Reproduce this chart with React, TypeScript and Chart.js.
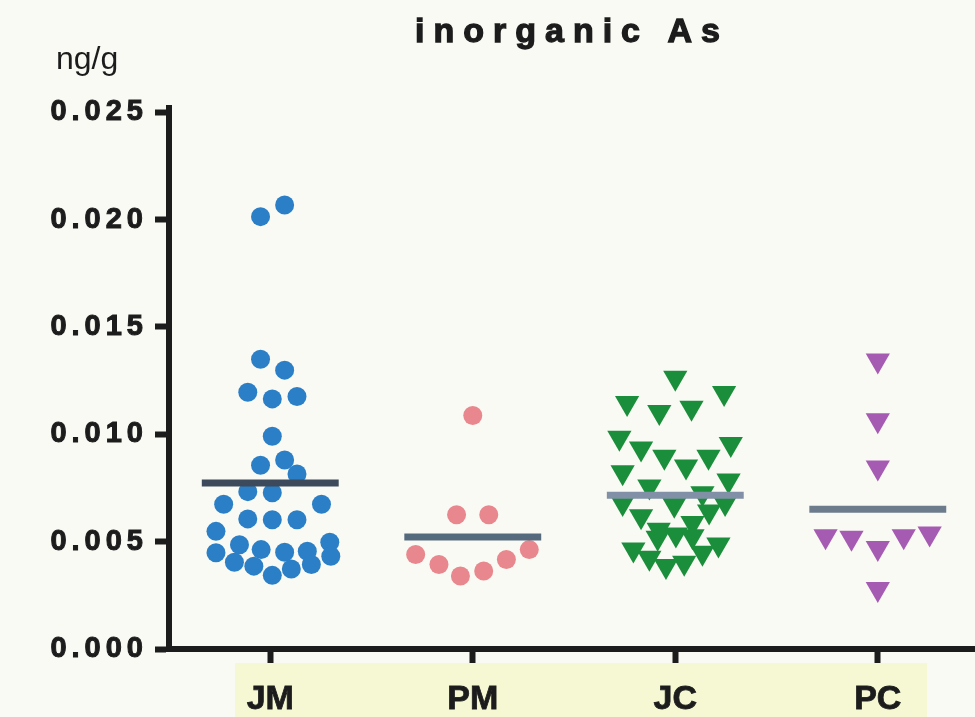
import React, { useEffect, useRef } from 'react';
import { Chart, registerables } from 'chart.js';
Chart.register(...registerables);

// ---- data ----
const categories = ['JM', 'PM', 'JC', 'PC'];
const yTickValues = [0, 0.005, 0.01, 0.015, 0.02, 0.025];
const titleText = 'inorganic As';
const unitText = 'ng/g';

const jmValues = [0.02014, 0.02068, 0.0135, 0.01299, 0.01196, 0.01165, 0.01176, 0.00991, 0.00856, 0.0088, 0.00815, 0.00733, 0.00728, 0.00674, 0.00674, 0.00606, 0.00602, 0.00602, 0.00548, 0.00497, 0.00486, 0.00463, 0.00451, 0.00455, 0.00448, 0.00432, 0.00404, 0.00386, 0.00373, 0.00394, 0.00343];
const jmJitter = [-0.048, 0.071, -0.048, 0.071, -0.111, 0.01, 0.132, 0.01, -0.048, 0.071, 0.132, -0.111, 0.01, -0.23, 0.253, -0.111, 0.01, 0.132, -0.268, 0.294, -0.152, -0.045, 0.071, 0.183, -0.268, 0.299, -0.177, -0.081, 0.104, 0.203, 0.01];

const pmValues = [0.01088, 0.00625, 0.00625, 0.0044, 0.00394, 0.0034, 0.00363, 0.00417, 0.00463];
const pmJitter = [0, -0.08, 0.079, -0.282, -0.167, -0.061, 0.054, 0.166, 0.279];

const jcValues = [0.01263, 0.01192, 0.01146, 0.01104, 0.01124, 0.00984, 0.00955, 0.00934, 0.00896, 0.00896, 0.0085, 0.00823, 0.00785, 0.00757, 0.00726, 0.0068, 0.00672, 0.0068, 0.00641, 0.00618, 0.00587, 0.00556, 0.00533, 0.00518, 0.00525, 0.00487, 0.00464, 0.00448, 0.00425, 0.00402, 0.00387];
const jcJitter = [0, 0.241, -0.238, -0.079, 0.08, -0.276, 0.274, -0.169, -0.054, 0.164, 0.053, -0.26, 0.263, -0.128, 0.134, -0.26, -0.005, 0.246, 0.167, -0.169, 0.085, -0.082, 0.003, -0.087, 0.085, 0.213, -0.207, 0.134, -0.128, 0.044, -0.046];

const pcValues = [0.01344, 0.01066, 0.00845, 0.00525, 0.00518, 0.00471, 0.00525, 0.00538, 0.00279];
const pcJitter = [0, 0, 0, -0.258, -0.13, 0, 0.128, 0.256, 0];

const meanValues = [0.00773, 0.00522, 0.00716, 0.00651];
const meanHalfWidth = 0.338;

const groupValues = [jmValues, pmValues, jcValues, pcValues];
const groupJitter = [jmJitter, pmJitter, jcJitter, pcJitter];
const groupColors = ['#2b7fc7', '#e8878d', '#1b8e3b', '#a65bb3'];
const meanColors = ['#3c4a5b', '#566a7e', '#8190a6', '#6c7c8d'];

const FONT = '"Liberation Sans", Arial, Helvetica, sans-serif';
const INK = '#1c1c1c';

export default function App() {
  const ref = useRef<HTMLCanvasElement | null>(null);

  useEffect(() => {
    document.body.style.margin = '0';
    const canvas = ref.current;
    if (!canvas) return;

    const pointSets = groupValues.map((vals, g) => ({
      type: 'scatter' as const,
      label: categories[g],
      data: vals.map((v, i) => ({ x: g + groupJitter[g][i], y: v })),
      backgroundColor: groupColors[g],
      borderColor: groupColors[g],
      borderWidth: 0,
      pointStyle: g < 2 ? 'circle' : 'triangle',
      pointRotation: g < 2 ? 0 : 180,
      pointRadius: g < 2 ? 9.5 : 14,
      order: 2,
    }));

    const meanSets = meanValues.map((m, g) => ({
      type: 'line' as const,
      label: categories[g] + ' mean',
      data: [
        { x: g - meanHalfWidth, y: m },
        { x: g + meanHalfWidth, y: m },
      ],
      borderColor: meanColors[g],
      borderWidth: 7,
      pointRadius: 0,
      showLine: true,
      fill: false,
      order: 1,
    }));

    const decor = {
      id: 'decor',
      beforeDraw(chart: any) {
        const ctx = chart.ctx;
        ctx.save();
        ctx.fillStyle = '#fafaf4';
        ctx.fillRect(0, 0, chart.width, chart.height);
        ctx.fillStyle = '#f5f8d3';
        ctx.fillRect(235, 663, 692, chart.height - 663);
        ctx.restore();
        const ys: any = chart.scales.y;
        if (ys && !ys.__wrapped) {
          const orig = ys.drawLabels;
          ys.drawLabels = function (area: any) {
            const c = this.ctx;
            c.save();
            c.letterSpacing = '5px';
            orig.call(this, area);
            c.restore();
          };
          ys.__wrapped = true;
        }
      },
      afterDraw(chart: any) {
        const ctx = chart.ctx;
        ctx.save();
        ctx.fillStyle = INK;
        ctx.strokeStyle = INK;
        ctx.lineWidth = 1.3;
        ctx.textAlign = 'left';
        ctx.textBaseline = 'alphabetic';
        ctx.font = `bold 34px ${FONT}`;
        ctx.letterSpacing = '9px';
        ctx.fillText(titleText, 415, 42);
        ctx.strokeText(titleText, 415, 42);
        ctx.letterSpacing = '0px';
        ctx.font = `32px ${FONT}`;
        ctx.fillText(unitText, 56, 69);
        ctx.restore();
      },
    };

    const chart = new Chart(canvas, {
      type: 'scatter',
      data: { datasets: [...meanSets, ...pointSets] as any },
      options: {
        responsive: false,
        animation: false,
        layout: { autoPadding: false, padding: { top: 108, left: 0, right: 0, bottom: 0 } },
        plugins: {
          legend: { display: false },
          title: { display: false },
          tooltip: { enabled: false },
        },
        scales: {
          x: {
            type: 'linear',
            min: -0.5,
            max: 3.48,
            afterFit: (s: any) => {
              s.height = 68;
              s.paddingLeft = 0;
              s.paddingRight = 0;
            },
            afterBuildTicks: (s: any) => {
              s.ticks = categories.map((_, i) => ({ value: i }));
            },
            ticks: {
              callback: (v: any) => categories[Math.round(Number(v))] ?? '',
              font: { family: FONT, size: 34, weight: 'bold' },
              color: INK,
              textStrokeColor: INK,
              textStrokeWidth: 0.8,
              padding: 16,
              maxRotation: 0,
              autoSkip: false,
            },
            grid: {
              display: true,
              drawOnChartArea: false,
              drawTicks: true,
              tickLength: 14,
              tickWidth: 6,
              tickColor: INK,
              color: INK,
            },
            border: { display: true, width: 6, color: INK },
          },
          y: {
            type: 'linear',
            min: 0,
            max: 0.0252,
            afterFit: (s: any) => {
              s.width = 169;
            },
            afterBuildTicks: (s: any) => {
              s.ticks = yTickValues.map((v) => ({ value: v }));
            },
            ticks: {
              callback: (v: any) => Number(v).toFixed(3),
              font: { family: FONT, size: 29, weight: 'bold' },
              color: INK,
              textStrokeColor: INK,
              textStrokeWidth: 1,
              padding: 7,
            },
            grid: {
              display: true,
              drawOnChartArea: false,
              drawTicks: true,
              tickLength: 14,
              tickWidth: 6,
              tickColor: INK,
              color: INK,
            },
            border: { display: true, width: 6, color: INK },
          },
        },
      },
      plugins: [decor],
    });

    return () => {
      chart.destroy();
    };
  }, []);

  return (
    <div style={{ width: 975, height: 717, position: 'relative' }}>
      <canvas ref={ref} width={975} height={717} style={{ display: 'block' }} />
    </div>
  );
}
